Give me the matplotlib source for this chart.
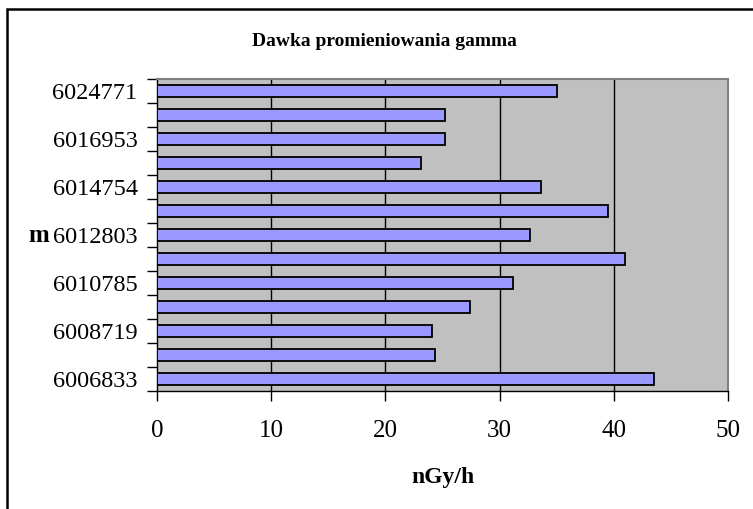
import matplotlib
matplotlib.use("Agg")
import matplotlib.pyplot as plt
from matplotlib.patches import Rectangle
import numpy as np

# Gamma dose rate per station, bottom to top
dose_values = [43.5, 24.3, 24.05, 27.4, 31.2, 40.95, 32.7, 39.5, 33.65, 23.1, 25.2, 25.2, 35.0]
# Station labels shown on every second bar, bottom to top
station_labels = ["6006833", "6008719", "6010785", "6012803", "6014754", "6016953", "6024771"]
x_ticks = [0, 10, 20, 30, 40, 50]

title_text = "Dawka promieniowania gamma"
x_title = "nGy/h"
y_title = "m"

W, H = 753, 509
fig = plt.figure(figsize=(W / 100, H / 100), dpi=100)
serif = ["Liberation Serif", "DejaVu Serif"]

# Chart-area border (runs off the right and bottom edges)
fig.patches.append(Rectangle((7 / W, -0.05), 1.2, (H - 9) / H + 0.05,
                             transform=fig.transFigure, fill=False,
                             edgecolor="black", linewidth=1.8))

left, right, top, bottom = 157, 728, 79, 391
ax = fig.add_axes([left / W, (H - bottom) / H, (right - left) / W, (bottom - top) / H])
ax.set_facecolor("#C0C0C0")

n = len(dose_values)
pos = np.arange(n)
ax.barh(pos, dose_values, height=0.46, color="#9999FF", edgecolor="black",
        linewidth=1.3, zorder=3)

ax.set_xlim(0, 50)
ax.set_ylim(-0.5, n - 0.5)

# vertical gridlines
for v in x_ticks[1:-1]:
    ax.axvline(v, color="black", linewidth=1.0, zorder=1)

ax.set_xticks(x_ticks)
ax.set_xticklabels([str(v) for v in x_ticks], family=serif, fontsize=18)
ax.tick_params(axis="x", direction="out", length=7, width=1, pad=14, color="black")

ax.set_yticks(pos[::2])
ax.set_yticklabels(station_labels, family=serif, fontsize=17.5)
ax.set_yticks(np.arange(n + 1) - 0.5, minor=True)
ax.tick_params(axis="y", which="major", length=0, pad=14)
ax.tick_params(axis="y", which="minor", direction="out", length=7, width=1, color="black")

for side in ("left", "bottom"):
    ax.spines[side].set_color("black")
    ax.spines[side].set_linewidth(1.0)
for side in ("top", "right"):
    ax.spines[side].set_color("#808080")
    ax.spines[side].set_linewidth(1.5)

fig.text(384 / W, 1 - 41 / H, title_text, family=serif, fontsize=14,
         fontweight="bold", ha="center", va="center")
fig.text(443 / W, 1 - 478 / H, x_title, family=serif, fontsize=17,
         fontweight="bold", ha="center", va="center")
fig.text(39 / W, 1 - 236 / H, y_title, family=serif, fontsize=18,
         fontweight="bold", ha="center", va="center")

fig.savefig("out.png", dpi=100)
